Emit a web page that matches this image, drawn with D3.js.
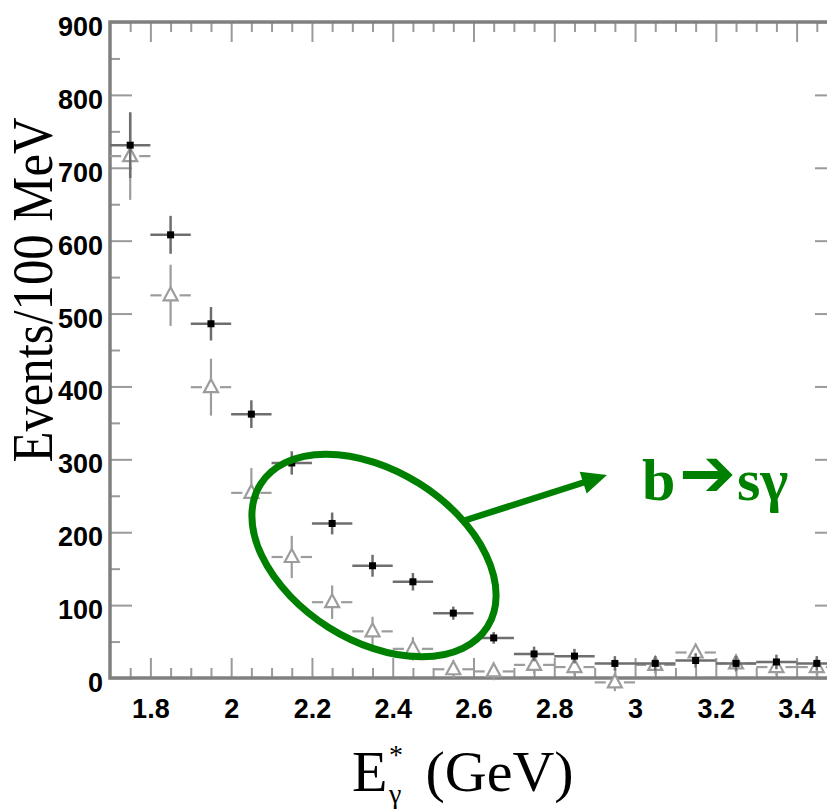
<!DOCTYPE html>
<html>
<head>
<meta charset="utf-8">
<script src="https://cdn.jsdelivr.net/npm/d3@7"></script>
<style>
  body { margin: 0; background: #ffffff; }
  svg { display: block; }
</style>
</head>
<body>
<svg id="chart" width="827" height="811"></svg>
<script>
// Photon energy spectrum: bin centres (GeV), 100 MeV bins
const binCenters = [1.75, 1.85, 1.95, 2.05, 2.15, 2.25, 2.35, 2.45, 2.55,
                    2.65, 2.75, 2.85, 2.95, 3.05, 3.15, 3.25, 3.35, 3.45];

// Filled squares: events per bin and their errors
const dataValues = [731, 608, 486, 362, 295, 212, 154, 132, 89,
                    55, 33, 30, 20, 20, 24, 20, 22, 20];
const dataErrors = [45, 26, 23, 19, 16, 15, 15, 12, 9,
                    8, 10, 10, 10, 10, 10, 10, 10, 10];

// Open triangles: events per bin and their errors
const triValues = [716, 525, 399, 254, 166, 104, 64, 40, 12,
                   9, 18, 15, -6, 18, 35, 20, 15, 15];
const triErrors = [60, 42, 39, 34, 29, 23, 20, 16, 12,
                   12, 12, 12, 12, 12, 12, 12, 12, 12];

const binHalfWidth = 0.05;

const xTickValues = [1.8, 2.0, 2.2, 2.4, 2.6, 2.8, 3.0, 3.2, 3.4];
const xTickLabels = ["1.8", "2", "2.2", "2.4", "2.6", "2.8", "3", "3.2", "3.4"];
const yTickValues = [0, 100, 200, 300, 400, 500, 600, 700, 800, 900];
const yTickLabels = ["0", "100", "200", "300", "400", "500", "600", "700", "800", "900"];

const annotationText = ["b", "\u2794", "s\u03b3"];

const svg = d3.select("#chart");

const x = d3.scaleLinear().domain([1.7, 3.5]).range([110, 837]);
const y = d3.scaleLinear().domain([0, 900]).range([678, 22]);

const frameColor = "#808080";
const tickColor = "#9a9a9a";
const green = "#008000";

// Minor tick positions
const xMinor = d3.range(1.75, 3.5, 0.05).map(v => +v.toFixed(2))
  .filter(v => !xTickValues.some(t => Math.abs(t - v) < 1e-6));
const yMinor = d3.range(50, 900, 100);

function styleAxis(g) {
  g.select(".domain").remove();
  g.selectAll(".tick line").attr("stroke", tickColor).attr("stroke-width", 2);
}

// Bottom axis (ticks point into the plot)
svg.append("g")
  .attr("transform", "translate(0,678)")
  .call(d3.axisBottom(x).tickValues(xTickValues)
    .tickFormat((d, i) => xTickLabels[i])
    .tickSizeInner(-20).tickSizeOuter(0).tickPadding(21))
  .call(styleAxis)
  .call(g => g.selectAll("text")
    .attr("fill", "#000")
    .attr("font-family", "'Liberation Sans', Arial, sans-serif")
    .attr("font-weight", "bold")
    .attr("font-size", 27));
svg.append("g")
  .attr("transform", "translate(0,678)")
  .call(d3.axisBottom(x).tickValues(xMinor).tickFormat("")
    .tickSizeInner(-10).tickSizeOuter(0))
  .call(styleAxis);

// Top axis
svg.append("g")
  .attr("transform", "translate(0,22)")
  .call(d3.axisTop(x).tickValues(xTickValues).tickFormat("")
    .tickSizeInner(-20).tickSizeOuter(0))
  .call(styleAxis);
svg.append("g")
  .attr("transform", "translate(0,22)")
  .call(d3.axisTop(x).tickValues(xMinor).tickFormat("")
    .tickSizeInner(-10).tickSizeOuter(0))
  .call(styleAxis);

// Left axis
svg.append("g")
  .attr("transform", "translate(110,0)")
  .call(d3.axisLeft(y).tickValues(yTickValues)
    .tickFormat((d, i) => yTickLabels[i])
    .tickSizeInner(-22).tickSizeOuter(0).tickPadding(7))
  .call(styleAxis)
  .call(g => g.selectAll("text")
    .attr("fill", "#000")
    .attr("dy", "0.5em")
    .attr("font-family", "'Liberation Sans', Arial, sans-serif")
    .attr("font-weight", "bold")
    .attr("font-size", 27));
svg.append("g")
  .attr("transform", "translate(110,0)")
  .call(d3.axisLeft(y).tickValues(yMinor).tickFormat("")
    .tickSizeInner(-10).tickSizeOuter(0))
  .call(styleAxis);

// Right axis
svg.append("g")
  .attr("transform", "translate(837,0)")
  .call(d3.axisRight(y).tickValues(yTickValues).tickFormat("")
    .tickSizeInner(-22).tickSizeOuter(0))
  .call(styleAxis);
svg.append("g")
  .attr("transform", "translate(837,0)")
  .call(d3.axisRight(y).tickValues(yMinor).tickFormat("")
    .tickSizeInner(-10).tickSizeOuter(0))
  .call(styleAxis);

// Frame
svg.append("rect")
  .attr("x", x(1.7)).attr("y", y(900))
  .attr("width", x(3.5) - x(1.7)).attr("height", y(0) - y(900))
  .attr("fill", "none").attr("stroke", frameColor).attr("stroke-width", 3.5);

// Open-triangle series with error bars (gapped around the marker)
const triData = binCenters.map((c, i) => ({ c, v: triValues[i], e: triErrors[i] }));
const triG = svg.append("g").attr("stroke", "#9c9c9c").attr("stroke-width", 2.2).attr("fill", "none");
const triSize = { half: 7, up: 8, down: 5 };
triData.forEach(d => {
  const cx = x(d.c), cy = y(d.v);
  triG.append("line").attr("x1", x(d.c - binHalfWidth)).attr("x2", cx - triSize.half - 2)
    .attr("y1", cy).attr("y2", cy);
  triG.append("line").attr("x1", cx + triSize.half + 2).attr("x2", x(d.c + binHalfWidth))
    .attr("y1", cy).attr("y2", cy);
  triG.append("line").attr("x1", cx).attr("x2", cx)
    .attr("y1", y(d.v + d.e)).attr("y2", cy - triSize.up);
  triG.append("line").attr("x1", cx).attr("x2", cx)
    .attr("y1", cy + triSize.down).attr("y2", y(d.v - d.e));
  triG.append("path")
    .attr("d", `M${cx},${cy - triSize.up}L${cx + triSize.half},${cy + triSize.down}L${cx - triSize.half},${cy + triSize.down}Z`)
    .attr("fill", "#fff");
});

// Filled-square series with error bars
const dataPts = binCenters.map((c, i) => ({ c, v: dataValues[i], e: dataErrors[i] }));
const dG = svg.append("g");
dG.selectAll("line.h").data(dataPts).join("line")
  .attr("x1", d => x(d.c - binHalfWidth)).attr("x2", d => x(d.c + binHalfWidth))
  .attr("y1", d => y(d.v)).attr("y2", d => y(d.v))
  .attr("stroke", "#6e6e6e").attr("stroke-width", 2.5);
dG.selectAll("line.v").data(dataPts).join("line")
  .attr("x1", d => x(d.c)).attr("x2", d => x(d.c))
  .attr("y1", d => y(d.v + d.e)).attr("y2", d => y(d.v - d.e))
  .attr("stroke", "#6e6e6e").attr("stroke-width", 2.5);
dG.selectAll("rect").data(dataPts).join("rect")
  .attr("x", d => x(d.c) - 3.5).attr("y", d => y(d.v) - 3.5)
  .attr("width", 7).attr("height", 7).attr("fill", "#000");

// Axis titles
svg.append("text")
  .attr("transform", "translate(52,290) rotate(-90)")
  .attr("text-anchor", "middle")
  .attr("font-family", "'Liberation Serif', 'Times New Roman', serif")
  .attr("font-size", 58)
  .attr("textLength", 345).attr("lengthAdjust", "spacingAndGlyphs")
  .attr("fill", "#000")
  .text("Events/100 MeV");

const xt = svg.append("text")
  .attr("font-family", "'Liberation Serif', 'Times New Roman', serif")
  .attr("font-size", 58).attr("fill", "#000");
xt.append("tspan").attr("x", 352).attr("y", 791).text("E");
xt.append("tspan").attr("x", 389).attr("y", 764).attr("font-size", 28).text("*");
xt.append("tspan").attr("x", 389).attr("y", 803).attr("font-size", 28).text("\u03b3");
xt.append("tspan").attr("x", 411).attr("y", 791).text(" (GeV)");

// Highlight: ellipse around the low-energy region and pointer to the label
const ell = { cx: 374, cy: 555.5, rx: 134, ry: 85, angle: 32.2 };
svg.append("ellipse")
  .attr("cx", 0).attr("cy", 0).attr("rx", ell.rx).attr("ry", ell.ry)
  .attr("transform", `translate(${ell.cx},${ell.cy}) rotate(${ell.angle})`)
  .attr("fill", "none").attr("stroke", green).attr("stroke-width", 7);

const p0 = [463, 521], tip = [607, 475];
const len = Math.hypot(tip[0] - p0[0], tip[1] - p0[1]);
const ux = (tip[0] - p0[0]) / len, uy = (tip[1] - p0[1]) / len;
const headLen = 25, headHalf = 11.5;
const bx = tip[0] - ux * headLen, by = tip[1] - uy * headLen;
svg.append("line")
  .attr("x1", p0[0]).attr("y1", p0[1]).attr("x2", bx + ux * 2).attr("y2", by + uy * 2)
  .attr("stroke", green).attr("stroke-width", 6.5);
svg.append("path")
  .attr("d", `M${tip[0]},${tip[1]}L${bx - uy * headHalf},${by + ux * headHalf}L${bx + uy * headHalf},${by - ux * headHalf}Z`)
  .attr("fill", green);

const lab = svg.append("text")
  .attr("font-family", "'Liberation Serif', 'Times New Roman', serif")
  .attr("font-weight", "bold").attr("font-size", 60).attr("fill", green);
lab.append("tspan").attr("x", 642).attr("y", 500).text(annotationText[0]);
lab.append("tspan").attr("x", 679).attr("y", 496)
  .attr("font-family", "'DejaVu Sans', sans-serif")
  .attr("font-weight", "normal")
  .attr("font-size", 68).text(annotationText[1]);
lab.append("tspan").attr("x", 737).attr("y", 500).text(annotationText[2]);
</script>
</body>
</html>
